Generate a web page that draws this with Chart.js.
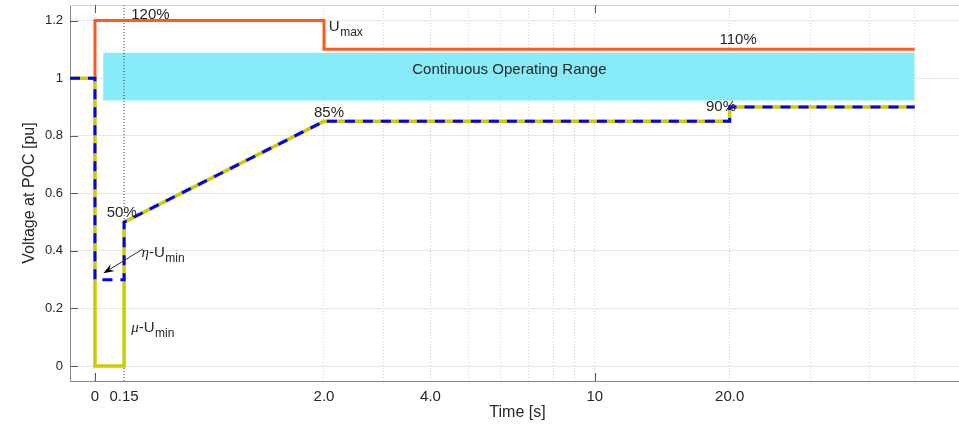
<!DOCTYPE html>
<html>
<head>
<meta charset="utf-8">
<script src="https://cdn.jsdelivr.net/npm/chart.js@4.4.1/dist/chart.umd.min.js"></script>
<style>
html, body { margin: 0; padding: 0; background: #fff; overflow: hidden; }
canvas { display: block; }
</style>
</head>
<body>
<canvas id="poc" width="975" height="427"></canvas>
<script>
// time axis is plotted as log10(t + 1)
const tickTimes = [0, 0.15, 2, 4, 10, 20];
const tickLabels = ['0', '0.15', '2.0', '4.0', '10', '20.0'];
const gridTimes = [0, 2, 3, 4, 5, 6, 7, 8, 9, 10, 20, 30, 40, 50];
const majorTimes = [0, 10];
const voltTicks = [0, 0.2, 0.4, 0.6, 0.8, 1, 1.2];

const umaxTime = [0, 0, 2, 2, 50];
const umaxVolt = [1, 1.2, 1.2, 1.1, 1.1];
const muTime = [-0.113, 0, 0, 0.15, 0.15, 2, 20, 20, 50];
const muVolt = [1, 1, 0, 0, 0.5, 0.85, 0.85, 0.9, 0.9];
const etaTime = [-0.113, 0, 0, 0.15, 0.15, 2, 20, 20, 50];
const etaVolt = [1, 1, 0.3, 0.3, 0.5, 0.85, 0.85, 0.9, 0.9];
const rangeTime = [0.04, 50];
const rangeHigh = [1.088, 1.088];
const rangeLow = [0.922, 0.922];
const clearTime = [0.15, 0.15];
const clearVolt = [-0.052, 1.254];

const notes = [
  { t: 0.19, v: 1.207, text: '120%' },
  { t: 2.07, v: 1.162, text: 'U', sub: 'max' },
  { t: 19.0, v: 1.117, text: '110%' },
  { t: 1.86, v: 0.866, text: '85%' },
  { t: 17.75, v: 0.885, text: '90%' },
  { t: 0.058, v: 0.519, text: '50%' },
  { t: 0.25, v: 0.38, greek: 'η', text: '-U', sub: 'min' },
  { t: 0.19, v: 0.119, greek: 'μ', text: '-U', sub: 'min' },
  { t: 6.3, v: 1.016, text: 'Continuous Operating Range', center: true }
];
const arrowFrom = { t: 0.257, v: 0.406 };
const arrowTo = { t: 0.041, v: 0.322 };

const FONT = '"Liberation Sans", Arial, Helvetica, sans-serif';
const TEXT = '#262626';

const X = t => Math.log10(t + 1);
const pts = (ts, vs) => ts.map((t, i) => ({ x: X(t), y: vs[i] }));

const axesPlugin = {
  id: 'matlabAxes',
  beforeDatasetsDraw(chart) {
    const { ctx, chartArea: a, scales: { x, y } } = chart;
    ctx.save();
    ctx.lineWidth = 1;
    ctx.strokeStyle = '#d4d4d4';
    ctx.beginPath();
    ctx.moveTo(a.left, a.top + 0.5);
    ctx.lineTo(a.right, a.top + 0.5);
    ctx.stroke();
    // inward tick marks
    ctx.strokeStyle = '#5a5a5a';
    ctx.beginPath();
    voltTicks.forEach(v => {
      const py = Math.round(y.getPixelForValue(v)) + 0.5;
      ctx.moveTo(a.left, py);
      ctx.lineTo(a.left + 8, py);
    });
    majorTimes.forEach(t => {
      const px = Math.round(x.getPixelForValue(X(t))) + 0.5;
      ctx.moveTo(px, a.bottom);
      ctx.lineTo(px, a.bottom - 8);
      ctx.moveTo(px, a.top);
      ctx.lineTo(px, a.top + 8);
    });
    ctx.stroke();
    ctx.restore();
  }
};

const notePlugin = {
  id: 'notes',
  afterDatasetsDraw(chart) {
    const { ctx, scales: { x, y } } = chart;
    ctx.save();
    ctx.fillStyle = TEXT;
    ctx.textBaseline = 'alphabetic';
    notes.forEach(n => {
      let px = x.getPixelForValue(X(n.t));
      const py = y.getPixelForValue(n.v);
      ctx.font = '15px ' + FONT;
      if (n.center) {
        ctx.textAlign = 'center';
        ctx.fillText(n.text, px, py);
        return;
      }
      ctx.textAlign = 'left';
      if (n.greek) {
        ctx.font = 'italic 15px "Liberation Serif", "DejaVu Serif", serif';
        ctx.fillText(n.greek, px, py);
        px += ctx.measureText(n.greek).width;
        ctx.font = '15px ' + FONT;
      }
      ctx.fillText(n.text, px, py);
      px += ctx.measureText(n.text).width;
      if (n.sub) {
        ctx.font = '12px ' + FONT;
        ctx.fillText(n.sub, px + 0.5, py + 5);
      }
    });

    // arrow to the eta-Umin level
    const x1 = x.getPixelForValue(X(arrowFrom.t)), y1 = y.getPixelForValue(arrowFrom.v);
    const x2 = x.getPixelForValue(X(arrowTo.t)), y2 = y.getPixelForValue(arrowTo.v);
    const ang = Math.atan2(y2 - y1, x2 - x1);
    ctx.strokeStyle = '#333';
    ctx.lineWidth = 1;
    ctx.beginPath();
    ctx.moveTo(x1, y1);
    ctx.lineTo(x2 - 6 * Math.cos(ang), y2 - 6 * Math.sin(ang));
    ctx.stroke();
    ctx.fillStyle = '#000';
    ctx.beginPath();
    ctx.moveTo(x2, y2);
    ctx.lineTo(x2 - 11 * Math.cos(ang) + 4 * Math.sin(ang), y2 - 11 * Math.sin(ang) - 4 * Math.cos(ang));
    ctx.lineTo(x2 - 7 * Math.cos(ang), y2 - 7 * Math.sin(ang));
    ctx.lineTo(x2 - 11 * Math.cos(ang) - 4 * Math.sin(ang), y2 - 11 * Math.sin(ang) + 4 * Math.cos(ang));
    ctx.closePath();
    ctx.fill();
    ctx.restore();
  }
};

new Chart(document.getElementById('poc'), {
  type: 'line',
  data: {
    datasets: [
      {
        label: 'Continuous Operating Range',
        data: pts(rangeTime, rangeHigh),
        borderColor: 'rgba(0,0,0,0)',
        borderWidth: 0,
        backgroundColor: '#87ebfa',
        fill: 1,
        order: 10
      },
      {
        label: 'range low',
        data: pts(rangeTime, rangeLow),
        borderColor: 'rgba(0,0,0,0)',
        borderWidth: 0,
        fill: false,
        order: 10
      },
      {
        label: 'fault clearing',
        data: pts(clearTime, clearVolt),
        borderColor: '#3c3c3c',
        borderWidth: 1,
        borderDash: [1, 2],
        order: 9
      },
      {
        label: 'Umax',
        data: pts(umaxTime, umaxVolt),
        borderColor: '#ff5a1e',
        borderWidth: 3,
        order: 3
      },
      {
        label: 'mu-Umin',
        data: pts(muTime, muVolt),
        borderColor: '#cccc00',
        borderWidth: 3.5,
        order: 2
      },
      {
        label: 'eta-Umin',
        data: pts(etaTime, etaVolt),
        borderColor: '#0000ff',
        borderWidth: 3,
        borderDash: [10, 8],
        order: 1
      }
    ]
  },
  options: {
    responsive: false,
    animation: false,
    devicePixelRatio: 1,
    layout: { autoPadding: false, padding: { top: 5, right: 10, left: 0, bottom: 0 } },
    elements: {
      point: { radius: 0 },
      line: { tension: 0, borderCapStyle: 'butt', borderJoinStyle: 'miter' }
    },
    plugins: {
      legend: { display: false },
      tooltip: { enabled: false }
    },
    scales: {
      x: {
        type: 'linear',
        min: -0.052,
        max: 1.8125,
        afterBuildTicks: s => {
          const all = [...new Set(gridTimes.concat(tickTimes))].sort((a, b) => a - b);
          s.ticks = all.map(t => ({ value: X(t) }));
        },
        afterFit: s => {
          s.height = 46;
          s.paddingLeft = s.paddingRight = s.paddingTop = s.paddingBottom = 0;
        },
        ticks: {
          autoSkip: false,
          maxRotation: 0,
          padding: 7,
          color: TEXT,
          font: { size: 15, family: FONT },
          callback: v => {
            const t = Math.pow(10, v) - 1;
            const i = tickTimes.findIndex(k => Math.abs(k - t) < 1e-6);
            return i < 0 ? '' : tickLabels[i];
          }
        },
        grid: {
          drawTicks: false,
          lineWidth: 1,
          color: c => (c.tick && gridTimes.some(g => Math.abs(X(g) - c.tick.value) < 1e-9)) ? '#cfcfcf' : 'rgba(0,0,0,0)'
        },
        border: { color: '#8c8c8c', width: 1, dash: [1, 2] },
        title: {
          display: true,
          text: 'Time [s]',
          color: TEXT,
          font: { size: 16, family: FONT },
          padding: { top: 0, bottom: 5 }
        }
      },
      y: {
        min: -0.052,
        max: 1.254,
        afterBuildTicks: s => { s.ticks = voltTicks.map(v => ({ value: v })); },
        afterFit: s => {
          s.width = 70;
          s.paddingLeft = s.paddingRight = s.paddingTop = s.paddingBottom = 0;
        },
        ticks: {
          padding: 7,
          color: TEXT,
          font: { size: 13, family: FONT },
          callback: v => String(Number(v.toFixed(1)))
        },
        grid: { drawTicks: false, color: '#e6e6e6', lineWidth: 1 },
        border: { color: '#8c8c8c', width: 1 },
        title: {
          display: true,
          text: 'Voltage at POC [pu]',
          color: TEXT,
          font: { size: 16, family: FONT },
          padding: { top: 20, bottom: 0 }
        }
      }
    }
  },
  plugins: [axesPlugin, notePlugin]
});
</script>
</body>
</html>
